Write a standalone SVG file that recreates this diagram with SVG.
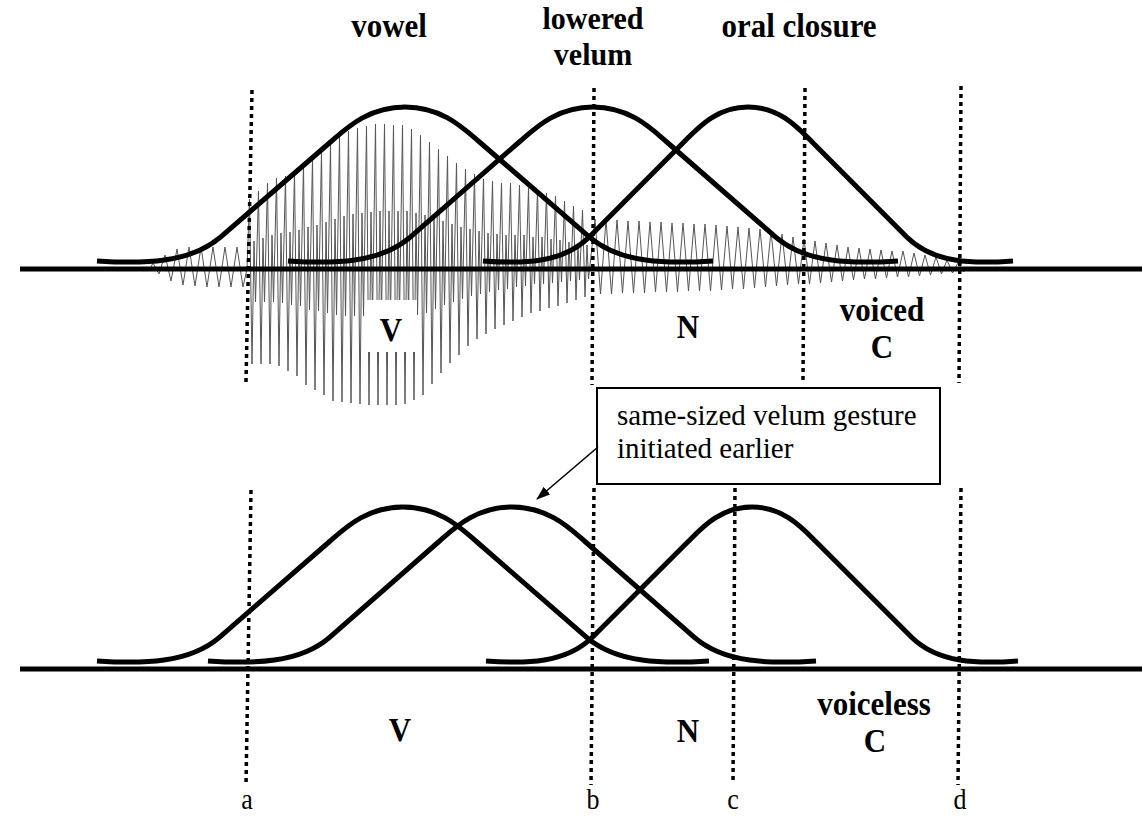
<svg xmlns="http://www.w3.org/2000/svg" width="1142" height="816" viewBox="0 0 1142 816">
<defs>
<style>
.axis{stroke:#000;stroke-width:5;fill:none}
.gest{stroke:#000;stroke-width:5;fill:none;stroke-linejoin:round}
.dot{stroke:#000;stroke-width:3.5;stroke-dasharray:4 4;fill:none}
.wave{stroke:#555;stroke-width:1;fill:none;stroke-linejoin:round}
.lbl{font-family:'Liberation Serif','DejaVu Serif',serif;font-weight:bold;font-size:31px;text-anchor:middle;fill:#000}
.reg{font-family:'Liberation Serif','DejaVu Serif',serif;font-size:29px;fill:#000}
.tick{font-family:'Liberation Serif','DejaVu Serif',serif;font-size:26px;text-anchor:middle;fill:#000}
</style>
<marker id="ah" viewBox="0 0 14 10" refX="13" refY="5" markerWidth="14" markerHeight="10" markerUnits="userSpaceOnUse" orient="auto">
<path d="M0,0 L14,5 L0,10 z" fill="#000"/>
</marker>
</defs>
<rect width="1142" height="816" fill="#fff"/>
<g id="waveform">
<path class="wave" d="M150,269 L153,263 159,274 165,255 171,281 177,249 183,285 189,247 195,286 201,247 207,287 213,247 219,287 225,247 231,287 237,247 243,287 247,269
L249.5,199 252,364 254,241 255.5,302
258.5,191 261,364 263,238 264.5,302
267.5,183 270,364 272,235 273.5,302
276.5,178 279,366 281,233 282.5,303
285.5,176 288,371 290,232 291.5,305
294.5,172 297,376 299,230 300.5,306
303.5,165 306,385 308,227 309.5,310
312.5,158 315,390 317,225 318.5,311
321.5,151 324,395 326,222 327.5,313
330.5,144 333,401 335,219 336.5,315
339.5,137 342,402 344,216 345.5,316
348.5,131 351,403 353,214 354.5,316
357.5,128 360,404 362,213 363.5,316
366.5,126 369,405 371,212 372.5,317
375.5,124 378,405 380,211 381.5,317
384.5,124 387,405 389,211 390.5,317
393.5,125 396,405 398,211 399.5,317
402.5,125 405,404 407,211 408.5,316
411.5,129 414,400 416,213 417.5,315
420.5,135 423,395 425,215 426.5,313
429.5,142 432,384 434,218 435.5,309
438.5,149 441,373 443,221 444.5,305
447.5,156 450,363 452,224 453.5,302
456.5,163 459,355 461,227 462.5,299
465.5,169 468,346 470,229 471.5,296
474.5,174 477,339 479,231 480.5,294
483.5,179 486,334 488,233 489.5,292
492.5,181 495,329 497,234 498.5,290
501.5,183 504,325 506,235 507.5,289
510.5,183 513,321 515,235 516.5,287
519.5,185 522,317 524,235 525.5,286
528.5,188 531,313 533,237 534.5,284
537.5,190 540,311 542,237 543.5,284
546.5,193 549,308 551,239 552.5,283
555.5,196 558,306 560,240 561.5,282
564.5,201 567,303 569,242 570.5,281
573.5,206 576,300 578,244 579.5,280
582.5,210 585,297 587,245 588.5,279
595,219 600.5,294 606,220 611.5,294 617,220 622.5,293 628,221 633.5,293 639,221 644.5,293
650,222 655.5,292 661,222 666.5,292 672,223 677.5,292 683,223 688.5,291 694,224 699.5,291
705,224 710.5,291 716,225 721.5,290 727,226 732.5,289 738,227 743.5,289 749,228 754.5,288
760,229 765.5,287 771,231 776.5,286 782,234 787.5,285 793,237 798.5,284 804,239 809.5,284
815,241 820.5,283 826,243 831.5,282 837,245 842.5,281 848,247 853.5,280 859,248 864.5,279
870,249 875.5,279 881,250 886.5,278 892,251 897.5,277 903,251 908.5,277 914,253 919.5,276
925,255 930.5,275 936,257 941.5,274 947,260 952.5,273 958,263 963.5,272 966,269"/>
<rect x="365" y="300" width="52" height="52" fill="#fff"/>
</g>
<g id="axes">
<line class="axis" x1="20" y1="269" x2="1142" y2="269"/>
<line class="axis" x1="20" y1="669" x2="1142" y2="669"/>
</g>
<g id="boundaries">
<line class="dot" x1="252" y1="90" x2="246" y2="382"/>
<line class="dot" x1="594" y1="88" x2="592" y2="385"/>
<line class="dot" x1="805" y1="88" x2="803" y2="380"/>
<line class="dot" x1="961" y1="86" x2="959" y2="383"/>
<line class="dot" x1="251" y1="490" x2="246" y2="785"/>
<line class="dot" x1="594" y1="488" x2="591" y2="785"/>
<line class="dot" x1="735" y1="488" x2="733" y2="783"/>
<line class="dot" x1="961" y1="488" x2="958" y2="785"/>
</g>
<g id="gesture-vowel-voiced">
<path class="gest" d="M97,260.9 C143.2,264 189.4,263.4 220.2,237.3 L331.1,141.5 C346.5,128.2 368,107 405,107 C442,107 463.5,128.2 478.9,141.5 L589.8,237.3 C620.6,263.4 666.8,264 713,260.9"/>
</g>
<g id="gesture-velum-voiced">
<path class="gest" d="M288,260.9 C333.8,264 379.5,263.4 410,237.3 L519.8,141.5 C535.1,128.2 556.4,107 593,107 C629.6,107 651,128.2 666.2,141.5 L776,237.3 C806.5,263.4 852.3,264 898,260.9"/>
</g>
<g id="gesture-closure-voiced">
<path class="gest" d="M483,260.9 C522.8,264 562.5,263.4 589,237.3 L684.4,141.5 C697.7,128.2 716.2,107 748,107 C779.8,107 798.4,128.2 811.6,141.5 L907,237.3 C933.5,263.4 973.3,264 1013,260.9"/>
</g>
<g id="gesture-vowel-voiceless">
<path class="gest" d="M97,660.9 C142.9,664 188.8,663.4 219.4,637.3 L329.6,541.5 C344.9,528.2 366.3,507 403,507 C439.7,507 461.1,528.2 476.4,541.5 L586.6,637.3 C617.2,663.4 663.1,664 709,660.9"/>
</g>
<g id="gesture-velum-voiceless">
<path class="gest" d="M208,660.9 C253.6,664 299.2,663.4 329.6,637.3 L439,541.5 C454.2,528.2 475.5,507 512,507 C548.5,507 569.8,528.2 585,541.5 L694.4,637.3 C724.8,663.4 770.4,664 816,660.9"/>
</g>
<g id="gesture-closure-voiceless">
<path class="gest" d="M486,660.9 C525.9,664 565.8,663.4 592.4,637.3 L688.2,541.5 C701.5,528.2 720.1,507 752,507 C783.9,507 802.5,528.2 815.8,541.5 L911.6,637.3 C938.2,663.4 978.1,664 1018,660.9"/>
</g>
<g id="label-vowel"><text class="lbl" transform="translate(389,37) scale(1,1.12)">vowel</text></g>
<g id="label-lowered-velum"><text class="lbl" style="font-size:30px" transform="translate(593,29) scale(1,1.08)">lowered</text><text class="lbl" style="font-size:30px" transform="translate(593,65) scale(1,1.08)">velum</text></g>
<g id="label-oral-closure"><text class="lbl" transform="translate(799,37) scale(1,1.12)">oral closure</text></g>
<g id="label-V-top"><text class="lbl" transform="translate(391,341) scale(1,1.12)">V</text></g>
<g id="label-N-top"><text class="lbl" transform="translate(688,338) scale(1,1.12)">N</text></g>
<g id="label-voiced-C"><text class="lbl" transform="translate(882,321) scale(1,1.12)">voiced</text><text class="lbl" transform="translate(882,358) scale(1,1.12)">C</text></g>
<g id="note-box">
<rect x="597" y="388" width="343" height="96" fill="#fff" stroke="#000" stroke-width="2"/>
<text class="reg" x="617" y="425">same-sized velum gesture</text>
<text class="reg" x="617" y="458">initiated earlier</text>
</g>
<g id="label-V-bottom"><text class="lbl" transform="translate(400,741) scale(1,1.12)">V</text></g>
<g id="label-N-bottom"><text class="lbl" transform="translate(688,742) scale(1,1.12)">N</text></g>
<g id="label-voiceless-C"><text class="lbl" transform="translate(874,715) scale(1,1.12)">voiceless</text><text class="lbl" transform="translate(875,752) scale(1,1.12)">C</text></g>
<g id="time-labels">
<text class="tick" transform="translate(247,809) scale(1,1.1)">a</text>
<text class="tick" transform="translate(593,809) scale(1,1.1)">b</text>
<text class="tick" transform="translate(733,809) scale(1,1.1)">c</text>
<text class="tick" transform="translate(960,809) scale(1,1.1)">d</text>
</g>
<g id="connectors">
<line x1="598" y1="447" x2="537" y2="499" stroke="#000" stroke-width="1.6" marker-end="url(#ah)"/>
</g>
</svg>
